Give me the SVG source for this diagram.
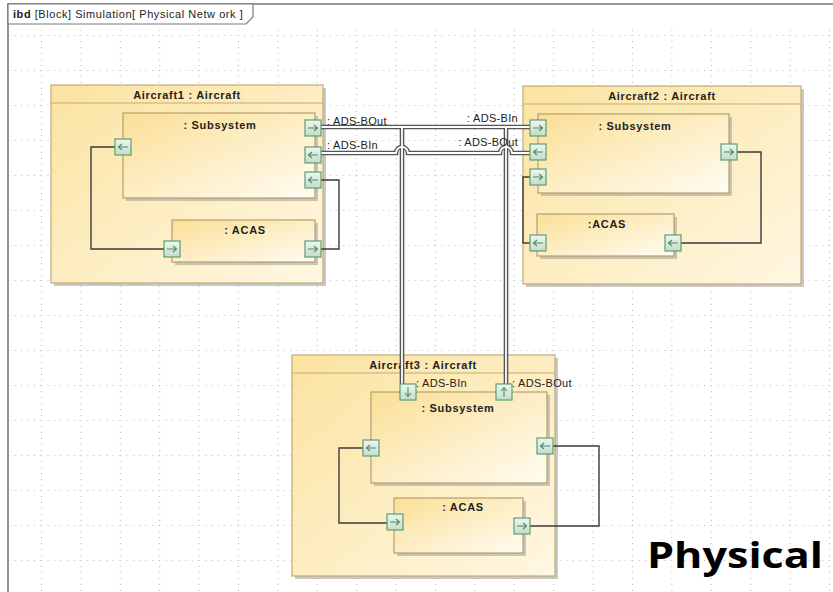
<svg xmlns="http://www.w3.org/2000/svg" xmlns:xlink="http://www.w3.org/1999/xlink" width="833" height="592" viewBox="0 0 833 592">
<style>
.blk{stroke:#c2ab72;stroke-width:1.2;fill:url(#gBlk)}
.part{stroke:#b3a06e;stroke-width:1.2;fill:url(#gPart)}
.shadow{fill:#9c9c9c;opacity:.55}
.sep{stroke:#c2ab72;stroke-width:1.2}
.title{font-family:"Liberation Sans",Arial,sans-serif;font-weight:bold;font-size:11px;fill:#222;text-anchor:middle;letter-spacing:.7px}
.lbl{font-family:"Liberation Sans",Arial,sans-serif;font-size:11px;fill:#222;letter-spacing:.3px}
.wire{fill:none;stroke:#3a3a3a;stroke-width:1.4}
.dblo{fill:none;stroke:#555;stroke-width:4.6}
.dbli{fill:none;stroke:#fff;stroke-width:1.8}
.portr{fill:url(#gPort);stroke:#5d9e72;stroke-width:1.2}
.arr{fill:none;stroke:#4b8c60;stroke-width:1.1}
.frame{fill:none;stroke:#7a7a7a;stroke-width:1.6}
</style>
<defs>
<linearGradient id="gBlk" x1="0" y1="0" x2="1" y2="1">
<stop offset="0" stop-color="#fbe3a0"/><stop offset="1" stop-color="#fff7e2"/>
</linearGradient>
<linearGradient id="gPart" x1="0" y1="0" x2="1" y2="1">
<stop offset="0" stop-color="#fbdf96"/><stop offset="1" stop-color="#fffcf2"/>
</linearGradient>
<linearGradient id="gPort" x1="0" y1="0" x2="0" y2="1">
<stop offset="0" stop-color="#eef6f0"/><stop offset="1" stop-color="#c4dccd"/>
</linearGradient>
<pattern id="grid" patternUnits="userSpaceOnUse" x="41" y="0" width="39.4" height="35">
<line x1="0.5" y1="0" x2="0.5" y2="35" stroke="#b8b8b8" stroke-width="1" stroke-dasharray="1 5"/>
<line x1="0" y1="0.5" x2="39.4" y2="0.5" stroke="#b8b8b8" stroke-width="1" stroke-dasharray="1 5.5"/>
</pattern>
<g id="pR"><rect class="portr" x="-8" y="-8" width="16" height="16"/><path class="arr" d="M-5,0H4M1,-3L4.5,0L1,3"/></g>
<g id="pL"><rect class="portr" x="-8" y="-8" width="16" height="16"/><path class="arr" d="M5,0H-4M-1,-3L-4.5,0L-1,3"/></g>
<g id="pD"><rect class="portr" x="-8" y="-8" width="16" height="16"/><path class="arr" d="M0,-5V4M-3,1L0,4.5L3,1"/></g>
<g id="pU"><rect class="portr" x="-8" y="-8" width="16" height="16"/><path class="arr" d="M0,5V-4M-3,-1L0,-4.5L3,-1"/></g>
</defs>

<rect x="0" y="0" width="833" height="592" fill="#fff"/>
<rect x="9" y="25" width="824" height="567" fill="url(#grid)"/>

<g id="frame">
<path class="frame" d="M8,592V4H833"/>
<path d="M8,4H253V17L246,24H8Z" fill="#fff" stroke="#7a7a7a" stroke-width="1.2"/>
<text x="13" y="18" font-family="'Liberation Sans',Arial,sans-serif" font-size="11" letter-spacing="0.55" fill="#222"><tspan font-weight="bold">ibd</tspan> [Block] Simulation[ Physical Netw ork ]</text>
</g>

<g id="aircraft1">
<rect class="shadow" x="54" y="88" width="272" height="198"/>
<rect class="blk" x="51" y="85" width="272" height="198"/>
<line class="sep" x1="51" y1="103" x2="323" y2="103"/>
<text class="title" x="187" y="99">Aircraft1 : Aircraft</text>
<g id="a1-subsystem">
<rect class="shadow" x="126" y="116" width="192" height="85"/>
<rect class="part" x="123" y="113" width="192" height="85"/>
<text class="title" x="220" y="129">: Subsystem</text>
</g>
<g id="a1-acas">
<rect class="shadow" x="175" y="223" width="143" height="42"/>
<rect class="part" x="172" y="220" width="143" height="42"/>
<text class="title" x="245" y="234">: ACAS</text>
</g>
</g>

<g id="aircraft2">
<rect class="shadow" x="526" y="89" width="278" height="198"/>
<rect class="blk" x="523" y="86" width="278" height="198"/>
<line class="sep" x1="523" y1="104" x2="801" y2="104"/>
<text class="title" x="662" y="100">Aircraft2 : Aircraft</text>
<g id="a2-subsystem">
<rect class="shadow" x="541" y="117" width="191" height="79"/>
<rect class="part" x="538" y="114" width="191" height="79"/>
<text class="title" x="635" y="130">: Subsystem</text>
</g>
<g id="a2-acas">
<rect class="shadow" x="540" y="217" width="137" height="42"/>
<rect class="part" x="537" y="214" width="137" height="42"/>
<text class="title" x="607" y="228">:ACAS</text>
</g>
</g>

<g id="aircraft3">
<rect class="shadow" x="295" y="358" width="263" height="221"/>
<rect class="blk" x="292" y="355" width="263" height="221"/>
<line class="sep" x1="292" y1="373" x2="555" y2="373"/>
<text class="title" x="423" y="369">Aircraft3 : Aircraft</text>
<g id="a3-subsystem">
<rect class="shadow" x="374" y="395" width="176" height="91"/>
<rect class="part" x="371" y="392" width="176" height="91"/>
<text class="title" x="458" y="412">: Subsystem</text>
</g>
<g id="a3-acas">
<rect class="shadow" x="397" y="501" width="129" height="55"/>
<rect class="part" x="394" y="498" width="129" height="55"/>
<text class="title" x="463" y="511">: ACAS</text>
</g>
</g>

<g id="connectors">
<path class="wire" d="M115,147H91V249H164"/>
<path class="wire" d="M321,180H339V249H321"/>
<path class="wire" d="M737,152H761V243H681"/>
<path class="wire" d="M530,177H523V243H530"/>
<path class="wire" d="M363,448H339V523H387"/>
<path class="wire" d="M553,446H599V526H530"/>
<g id="network">
<path class="dblo" d="M321,127H530"/>
<path class="dblo" d="M402,127V384"/>
<path class="dblo" d="M506,127V384"/>
<path class="dblo" d="M530,153H512A6,6 0 0 0 500,153H408A6,6 0 0 0 396,153H321"/>
<path class="dbli" d="M321,127H530"/>
<path class="dbli" d="M402,126V384"/>
<path class="dbli" d="M506,126V384"/>
<path class="dbli" d="M530,153H512A6,6 0 0 0 500,153H408A6,6 0 0 0 396,153H321"/>
</g>
<text class="lbl" x="327" y="125">: ADS-BOut</text>
<text class="lbl" x="327" y="149">: ADS-BIn</text>
<text class="lbl" x="518" y="122" text-anchor="end">: ADS-BIn</text>
<text class="lbl" x="518" y="146" text-anchor="end">: ADS-BOut</text>
<text class="lbl" x="416" y="387">: ADS-BIn</text>
<text class="lbl" x="512" y="387">: ADS-BOut</text>
</g>

<g id="ports">
<use xlink:href="#pR" x="313" y="128"/>
<use xlink:href="#pL" x="313" y="155"/>
<use xlink:href="#pL" x="313" y="180"/>
<use xlink:href="#pL" x="123" y="147"/>
<use xlink:href="#pR" x="172" y="249"/>
<use xlink:href="#pR" x="313" y="249"/>
<use xlink:href="#pR" x="538" y="128"/>
<use xlink:href="#pL" x="538" y="152"/>
<use xlink:href="#pR" x="538" y="177"/>
<use xlink:href="#pR" x="729" y="152"/>
<use xlink:href="#pL" x="538" y="243"/>
<use xlink:href="#pL" x="673" y="243"/>
<use xlink:href="#pD" x="408" y="392"/>
<use xlink:href="#pU" x="504" y="392"/>
<use xlink:href="#pL" x="371" y="448"/>
<use xlink:href="#pL" x="545" y="446"/>
<use xlink:href="#pR" x="395" y="522"/>
<use xlink:href="#pR" x="522" y="526"/>
</g>

<text x="647" y="568" font-family="'Open Sans','Noto Sans',sans-serif" font-weight="bold" font-size="36" fill="#000" textLength="176" lengthAdjust="spacingAndGlyphs">Physical</text>
</svg>
